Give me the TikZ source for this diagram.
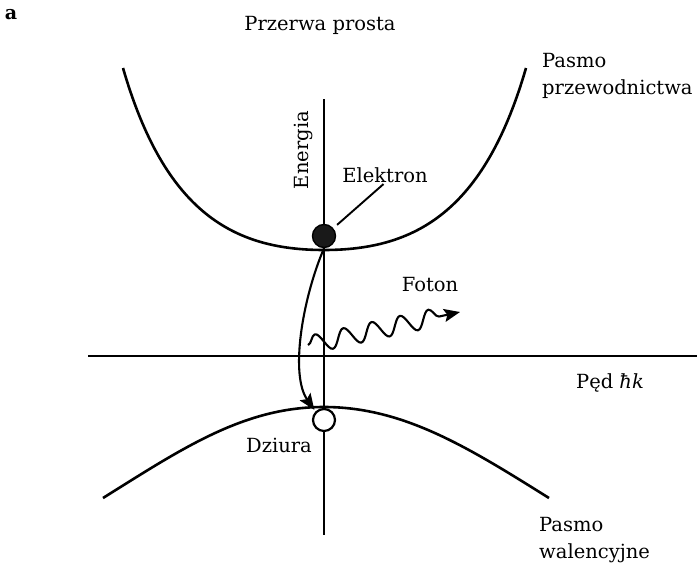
\documentclass[tikz,border=0pt]{standalone}
\usepackage{fontspec}
\setmainfont{DejaVu Serif}
\usetikzlibrary{arrows.meta,decorations.pathmorphing}
\begin{document}
\begin{tikzpicture}[x=1pt,y=-1pt,
  lbl/.style={inner sep=0pt,font=\fontsize{19.5}{27}\selectfont},
  band/.style={line width=2.6pt},
  axis/.style={line width=2.1pt},
  conn/.style={line width=2.1pt},
  tipstyle/.style={-{Stealth[length=16pt,width=13pt,inset=3pt]}},
  wave/.style={line width=2.1pt,line join=round,decorate,
     decoration={snake,amplitude=9pt,segment length=29pt,post length=13pt}},
]
\useasboundingbox (0,0) rectangle (697,565);

% axes
\coordinate (vtop) at (324,99);
\coordinate (vbot) at (324,535);
\coordinate (hleft) at (88,356);
\coordinate (hright) at (697,356);
\draw[axis] (vtop) -- (vbot);
\draw[axis] (hleft) -- (hright);

% conduction band
\draw[band] (123,68) .. controls (165,213) and (234,250) .. (324,250)
                     .. controls (414,250) and (484,213) .. (526,68);

% valence band
\draw[band] (103,498) .. controls (183,448) and (244,407) .. (324,407)
                      .. controls (404,407) and (469,448) .. (549,498);

% electron and hole
\node[circle,draw,fill=black!90,line width=1.4pt,minimum size=23pt,inner sep=0pt] (e) at (324,236) {};
\node[circle,draw,fill=white,line width=2.2pt,minimum size=22pt,inner sep=0pt] (h) at (324,420) {};

% labels
\node[inner sep=0pt,font=\bfseries\fontsize{19}{22}\selectfont] (lab-a) at (11,15) {a};
\node[lbl] (title) at (320,25) {Przerwa prosta};
\node[lbl,align=left,anchor=west] (cb) at (542,76) {Pasmo\\przewodnictwa};
\node[lbl,align=left,anchor=west] (vb) at (539,540) {Pasmo\\walencyjne};
\node[lbl,rotate=90] (energia) at (303,150) {Energia};
\node[lbl] (elab) at (385,175) {Elektron};
\node[lbl] (flab) at (430,285) {Foton};
\node[lbl] (dlab) at (279,445) {Dziura};
\node[lbl] (ped) at (610,383) {Pęd \textit{ħk}};

% pointer to electron
\draw[line width=1.9pt,shorten <=5pt,shorten >=2pt] (e.40) -- (elab.south);

% recombination arrow
\draw[conn,tipstyle,shorten >=2pt] (e.south) .. controls (302,300) and (290,375) .. (h.north west);

% photon
\coordinate (ws) at (308,345);
\coordinate (we) at (460,312);
\draw[wave,tipstyle] (ws) -- (we);
\end{tikzpicture}
\end{document}
